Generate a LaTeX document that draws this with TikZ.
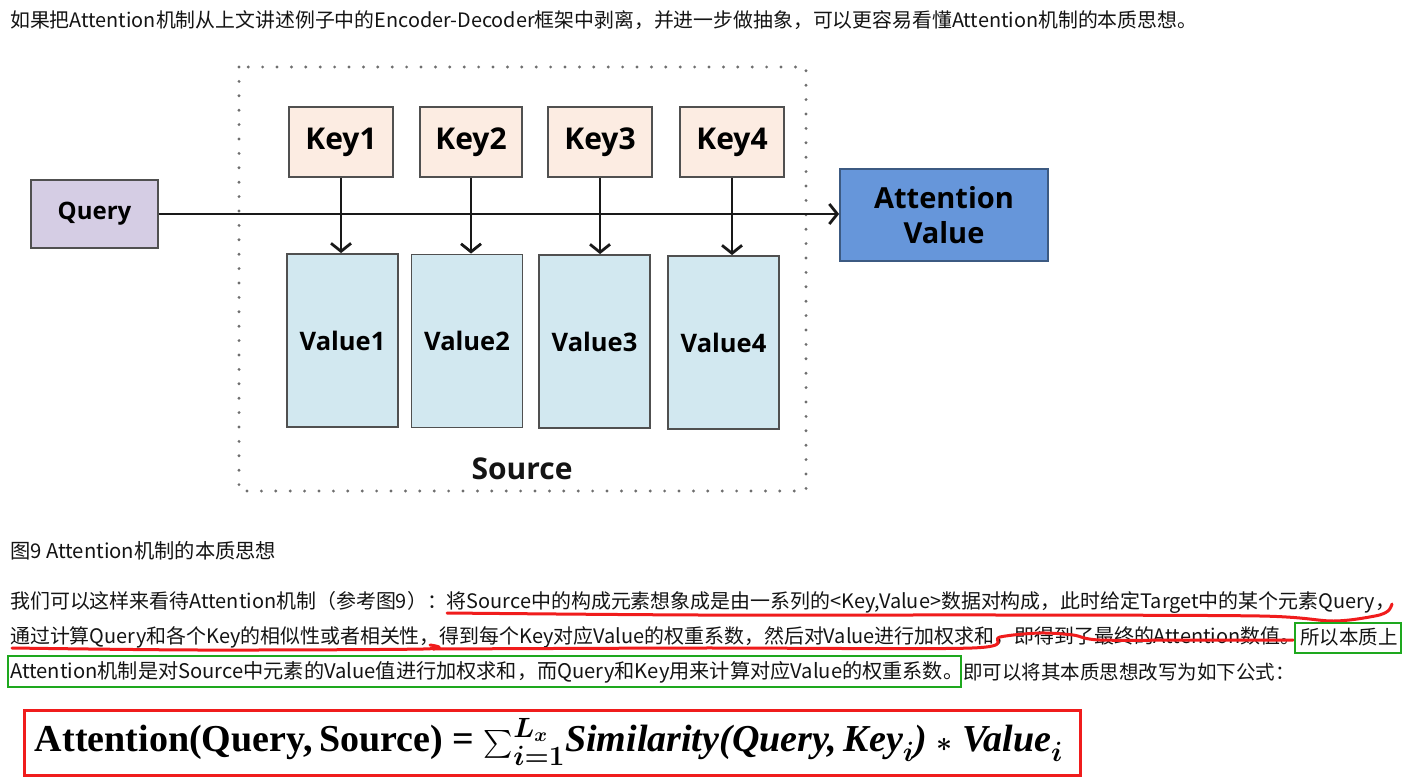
\documentclass[tikz,border=0pt]{standalone}
\usepackage{amsmath}
\usepackage{fontspec}
\usetikzlibrary{arrows.meta}
\newfontfamily\cjk{Noto Sans CJK SC}
\newfontfamily\diagfont{Open Sans}
\newfontfamily\fserif{Liberation Serif}
\definecolor{txt}{RGB}{20,20,20}
\definecolor{boxline}{RGB}{80,80,80}
\definecolor{queryfill}{RGB}{213,205,228}
\definecolor{keyfill}{RGB}{252,236,226}
\definecolor{valfill}{RGB}{210,232,240}
\definecolor{attfill}{RGB}{102,150,218}
\definecolor{attline}{RGB}{60,90,130}
\definecolor{penred}{RGB}{240,28,28}
\definecolor{pengreen}{RGB}{30,168,30}
\definecolor{dotgray}{RGB}{110,110,110}
\newcommand\fitto[2]{\resizebox{#1}{!}{#2}}
\tikzset{
  body/.style={anchor=west, inner sep=0pt, text=txt, font=\cjk\fontsize{19.5}{24}\selectfont},
  dbox/.style={draw=boxline, line width=1.8pt, inner sep=0pt, font=\diagfont\bfseries, text=black},
  keybox/.style={dbox, fill=keyfill, minimum height=70pt, font=\diagfont\bfseries\fontsize{30}{34}\selectfont},
  valbox/.style={dbox, fill=valfill, minimum width=111pt, minimum height=173pt, font=\diagfont\bfseries\fontsize{25.5}{30}\selectfont},
  arr/.style={draw=black!90, line width=2.8pt, -{Straight Barb[length=8pt,width=20pt]}},
  dotbox/.style={draw=dotgray, line width=3.2pt, line cap=round, dash pattern=on 0pt off 14.4pt},
  redpen/.style={draw=penred, line width=3pt, line cap=round, line join=round},
  greenpen/.style={draw=pengreen, line width=2.8pt},
}
\begin{document}
\begin{tikzpicture}[x=1pt,y=-1pt]
\useasboundingbox[fill=white] (0,0) rectangle (1404,778);

% top line
\node[body] (l1) at (10,20) {\fitto{1187pt}{如果把Attention机制从上文讲述例子中的Encoder-Decoder框架中剥离，并进一步做抽象，可以更容易看懂Attention机制的本质思想。}};

% diagram
\draw[dotbox] (239,67) rectangle (806,491);
\node[dbox, fill=queryfill, minimum width=127pt, minimum height=68pt, font=\diagfont\bfseries\fontsize{24}{28}\selectfont] (query) at (94.5,214) {Query};
\node[keybox, minimum width=104pt] (k1) at (341,142) {Key1};
\node[keybox, minimum width=102pt] (k2) at (471,142) {Key2};
\node[keybox, minimum width=104pt] (k3) at (600,142) {Key3};
\node[keybox, minimum width=104pt] (k4) at (732,142) {Key4};
\node[valbox] (v1) at (342.5,340.5) {Value1};
\node[valbox] (v2) at (467,341) {Value2};
\node[valbox] (v3) at (594.5,341.5) {Value3};
\node[valbox] (v4) at (723.5,342.5) {Value4};
\node[dbox, draw=attline, fill=attfill, minimum width=208pt, minimum height=92pt, align=center, font=\diagfont\bfseries\fontsize{29}{35}\selectfont] (att) at (944,215) {Attention\\Value};
\node[inner sep=0pt, font=\diagfont\bfseries\fontsize{30}{34}\selectfont, text=txt] (src) at (522,469) {Source};

\draw[arr] (query.east) -- (query.east -| att.west);
\foreach \i in {1,2,3,4}{
  \draw[arr] (k\i.south) -- (k\i.south |- v\i.north);
}

% caption and paragraph
\node[body] (cap) at (10,551) {\fitto{266pt}{图9 Attention机制的本质思想}};
\node[body] (l2) at (10,602) {\fitto{1385pt}{我们可以这样来看待Attention机制（参考图9）：将Source中的构成元素想象成是由一系列的<Key,Value>数据对构成，此时给定Target中的某个元素Query，}};
\node[body] (l3a) at (10,637) {\fitto{1290pt}{通过计算Query和各个Key的相似性或者相关性，得到每个Key对应Value的权重系数，然后对Value进行加权求和，即得到了最终的Attention数值。}};
\node[body] (l3b) at (1300,637) {所以本质上};
\node[body] (l4a) at (10,672) {\fitto{953pt}{Attention机制是对Source中元素的Value值进行加权求和，而Query和Key用来计算对应Value的权重系数。}};
\node[body] (l4b) at (963,672) {即可以将其本质思想改写为如下公式：};

% red hand-drawn underlines
\draw[redpen] plot[smooth, tension=0.5] coordinates {(447,613) (700,615) (1000,615) (1260,616) (1333,621) (1375,616) (1388,611) (1392,604)};
\draw[redpen] plot[smooth, tension=0.5] coordinates {(12,648) (200,650) (423,649) (430,645)};
\draw[redpen] plot[smooth, tension=0.5] coordinates {(433,649) (700,648) (972,648) (1000,637) (1040,633) (1073,635) (1100,640) (1200,640) (1293,640)};

% green boxes
\draw[greenpen] (1295,623) rectangle (1401,653);
\draw[greenpen] (8,656) rectangle (961,687);

% formula
\draw[draw=penred, line width=3pt] (24,710) rectangle (1080,775);
\node[inner sep=0pt, text=black] (formula) at (549,742) {\fitto{1028pt}{\fontsize{34}{40}\selectfont\boldmath\fserif\bfseries Attention(Query,\,Source) = $\sum_{i=1}^{L_x}$\itshape Similarity(Query,\,Key$_i$) $*$ Value$_i$}};
\end{tikzpicture}
\end{document}
